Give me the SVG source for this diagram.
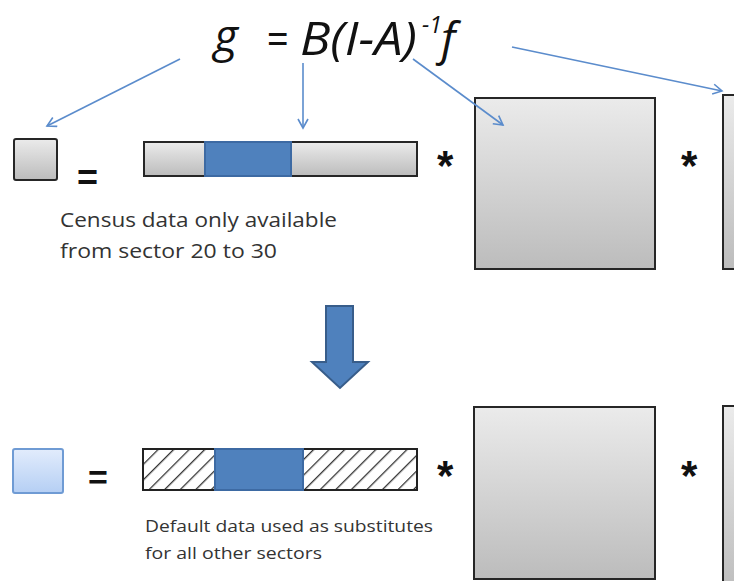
<svg xmlns="http://www.w3.org/2000/svg" width="734" height="581" viewBox="0 0 734 581">
<style>
.box{fill:url(#grey);stroke:#262626;stroke-width:2}
.blue{fill:#4f81bd;stroke:#3d6aa3;stroke-width:2}
.conn{stroke:#5b8ccc;stroke-width:1.6;fill:none;marker-end:url(#ah)}
.eq{font-family:"Open Sans","Liberation Sans",sans-serif;font-style:italic;fill:#111}
.op{font-family:"Liberation Sans",Arial,sans-serif;font-weight:bold;fill:#111}
.note{font-family:"Open Sans","Liberation Sans",sans-serif;fill:#333}
</style>
<defs>
<linearGradient id="grey" x1="0" y1="0" x2="0" y2="1">
<stop offset="0" stop-color="#ebebeb"/><stop offset="1" stop-color="#bcbcbc"/>
</linearGradient>
<linearGradient id="lblue" x1="0" y1="0" x2="0" y2="1">
<stop offset="0" stop-color="#e2ecfc"/><stop offset="1" stop-color="#b5cff4"/>
</linearGradient>
<pattern id="hatch" patternUnits="userSpaceOnUse" width="11" height="11" patternTransform="rotate(45)">
<rect width="11" height="11" fill="#fff"/>
<line x1="0" y1="0" x2="0" y2="11" stroke="#333" stroke-width="2.6"/>
</pattern>
<marker id="ah" markerWidth="12" markerHeight="12" refX="10" refY="6" orient="auto" markerUnits="userSpaceOnUse">
<path d="M1,1 L10,6 L1,11" fill="none" stroke="#5b8ccc" stroke-width="1.6"/>
</marker>
</defs>

<g id="equation">
<text class="eq" x="214" y="52" font-size="46">g</text>
<text class="eq" x="266" y="55" font-size="46" font-style="normal" textLength="22" lengthAdjust="spacingAndGlyphs">=</text>
<text class="eq" x="300" y="55" font-size="46" textLength="117" lengthAdjust="spacingAndGlyphs">B(I-A)</text>
<text class="eq" x="422" y="33" font-size="24" textLength="20" lengthAdjust="spacingAndGlyphs">-1</text>
<text class="eq" x="441" y="55" font-size="46">f</text>
</g>

<g id="top-g"><rect class="box" x="14" y="139" width="43" height="41" rx="2"/></g>
<g id="top-eq"><text class="op" x="77" y="190" font-size="36">=</text></g>
<g id="top-bar">
<rect class="box" x="144" y="142" width="273" height="34"/>
<rect class="blue" x="205" y="142" width="86" height="34"/>
</g>
<g id="top-star1"><text class="op" x="437" y="180" font-size="42">*</text></g>
<g id="top-matrix"><rect class="box" x="475" y="98" width="180" height="171"/></g>
<g id="top-star2"><text class="op" x="681" y="180" font-size="42">*</text></g>
<g id="top-f"><rect class="box" x="723" y="95" width="30" height="174"/></g>
<g id="top-note">
<text class="note" x="60" y="227" font-size="20" textLength="277" lengthAdjust="spacingAndGlyphs">Census data only available</text>
<text class="note" x="60" y="258" font-size="20" textLength="217" lengthAdjust="spacingAndGlyphs">from sector 20 to 30</text>
</g>

<g id="down-arrow">
<polygon points="326,306 353,306 353,362 368,362 340,388 312,362 326,362" fill="#4f81bd" stroke="#385d8a" stroke-width="2"/>
</g>

<g id="bot-g"><rect x="13" y="449" width="50" height="44" rx="2" fill="url(#lblue)" stroke="#6f9bd4" stroke-width="2"/></g>
<g id="bot-eq"><text class="op" x="88" y="489" font-size="34">=</text></g>
<g id="bot-bar">
<rect x="143" y="449" width="274" height="41" fill="url(#hatch)" stroke="#222" stroke-width="2"/>
<rect class="blue" x="215" y="449" width="88" height="41"/>
</g>
<g id="bot-star1"><text class="op" x="437" y="490" font-size="42">*</text></g>
<g id="bot-matrix"><rect class="box" x="474" y="407" width="181" height="172"/></g>
<g id="bot-star2"><text class="op" x="681" y="490" font-size="42">*</text></g>
<g id="bot-f"><rect class="box" x="723" y="406" width="30" height="190"/></g>
<g id="bot-note">
<text class="note" x="145" y="532" font-size="16" textLength="288" lengthAdjust="spacingAndGlyphs">Default data used as substitutes</text>
<text class="note" x="145" y="559" font-size="16" textLength="177" lengthAdjust="spacingAndGlyphs">for all other sectors</text>
</g>

<g id="connectors">
<line class="conn" x1="180" y1="59" x2="47" y2="126"/>
<line class="conn" x1="303" y1="63" x2="303" y2="128"/>
<line class="conn" x1="413" y1="59" x2="503" y2="125"/>
<line class="conn" x1="512" y1="47" x2="722" y2="91"/>
</g>
</svg>
